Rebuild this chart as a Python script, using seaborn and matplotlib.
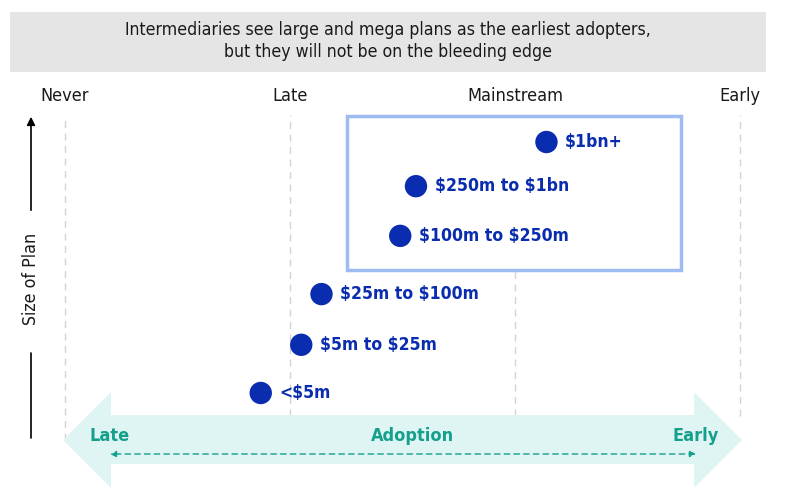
import matplotlib
matplotlib.use("Agg")
import matplotlib.pyplot as plt
import matplotlib.patches as mpatches
import seaborn as sns
import pandas as pd

# ---- data ----
stage_labels = ["Never", "Late", "Mainstream", "Early"]
plan_sizes = ["<$5m", "$5m to $25m", "$25m to $100m", "$100m to $250m", "$250m to $1bn", "$1bn+"]
adoption_score = [0.87, 1.05, 1.14, 1.49, 1.56, 2.14]
size_level = [1.0, 1.96, 2.97, 4.13, 5.12, 6.0]
title_text = "Intermediaries see large and mega plans as the earliest adopters,\nbut they will not be on the bleeding edge"

df = pd.DataFrame({"plan": plan_sizes, "adoption": adoption_score, "level": size_level})

sns.set_style("white")
plt.rcParams["font.family"] = ["DejaVu Sans"]
plt.rcParams["font.stretch"] = "condensed"
plt.rcParams["text.parse_math"] = False

W, H = 791, 498
fig = plt.figure(figsize=(W / 100, H / 100), dpi=100)
ax = fig.add_axes([0, 0, 1, 1])
ax.set_xlim(-0.289, 3.227)
ax.set_ylim(-1.092, 8.829)
ax.axis("off")

def px(x, y):
    return (x / W, 1 - y / H)

navy = "#0a2db0"
teal = "#14a08c"
band = "#dff5f3"

# title box
ax.add_patch(mpatches.Rectangle(px(10, 72), 756 / W, 60 / H, transform=ax.transAxes,
                                facecolor="#e5e5e5", edgecolor="none", zorder=0))
ax.text(*px(388, 41), title_text, transform=ax.transAxes, ha="center", va="center",
        fontsize=12.7, linespacing=1.3, color="#1a1a1a")

# stage columns
for i, lab in enumerate(stage_labels):
    ymin = (1 - 440 / H) if i == 0 else (1 - 416 / H)
    ax.axvline(i, ymin=ymin, ymax=1 - 115 / H, color="#d3d3d3", lw=1, ls=(0, (5, 4)), zorder=1)
    ax.text(i, 1 - 96 / H, lab, transform=ax.get_xaxis_transform(), ha="center", va="center",
            fontsize=13, color="#1a1a1a")

# highlight box
ax.add_patch(mpatches.Rectangle(px(347, 270), 334 / W, 154 / H, transform=ax.transAxes,
                                facecolor="white", edgecolor="#9dbcf2", lw=2.5, zorder=2))

# adoption band arrow
band_poly = [px(63, 440), px(111, 392), px(111, 415), px(694, 415), px(694, 392), px(742, 440),
             px(694, 488), px(694, 464), px(111, 464), px(111, 488)]
ax.add_patch(mpatches.Polygon(band_poly, closed=True, transform=ax.transAxes,
                              facecolor=band, edgecolor="none", zorder=3))
ax.annotate("", xy=px(110, 454), xytext=px(696, 454), xycoords="axes fraction",
            arrowprops=dict(arrowstyle="<|-|>", color=teal, lw=1, ls=(0, (4, 3)),
                            mutation_scale=9, shrinkA=0, shrinkB=0), zorder=4)
for x, t in [(110, "Late"), (412, "Adoption"), (696, "Early")]:
    ax.text(*px(x, 436), t, transform=ax.transAxes, ha="center", va="center",
            fontsize=13, fontweight="bold", color=teal, zorder=5)

# y axis arrow
ax.annotate("", xy=px(31, 114), xytext=px(31, 213), xycoords="axes fraction",
            arrowprops=dict(arrowstyle="-|>", color="black", lw=1.2, mutation_scale=12))
ax.plot(*zip(px(31, 353), px(31, 438)), transform=ax.transAxes, color="black", lw=1.2)
ax.text(*px(31, 279), "Size of Plan", transform=ax.transAxes, rotation=90,
        ha="center", va="center", fontsize=12.8, color="#1a1a1a")

# points
sns.scatterplot(data=df, x="adoption", y="level", ax=ax, s=260, color=navy,
                edgecolor="none", zorder=6, legend=False)
for _, r in df.iterrows():
    ax.annotate(r["plan"], (r["adoption"], r["level"]), xytext=(13.5, 0),
                textcoords="offset points", ha="left", va="center",
                fontsize=12.6, fontweight="bold", color=navy, zorder=7)

fig.savefig("out.png", dpi=100)
